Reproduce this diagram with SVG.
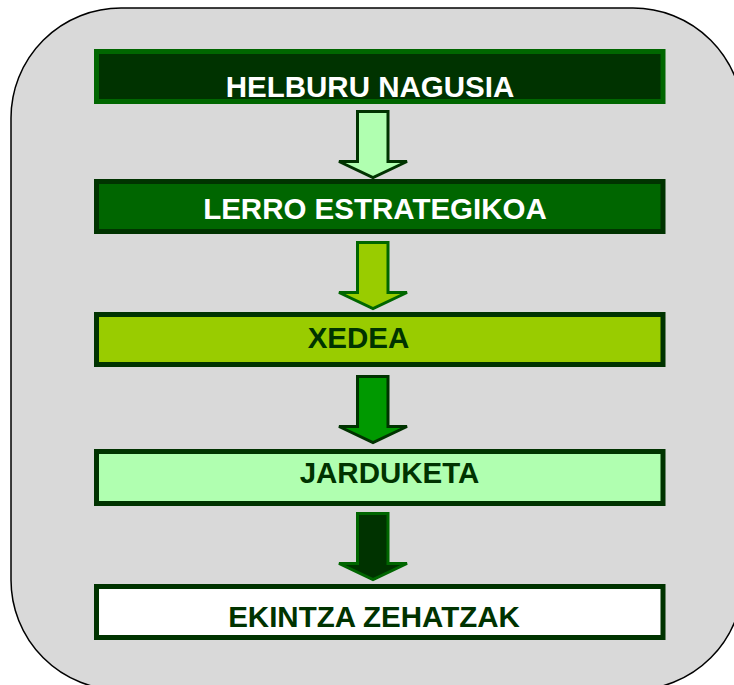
<svg xmlns="http://www.w3.org/2000/svg" width="734" height="685" viewBox="0 0 734 685">
<style>
.t{font-family:"Liberation Sans",Arial,sans-serif;font-weight:bold;font-size:29.5px}
.box{stroke-width:5}
.arr{stroke-width:3;stroke-linejoin:miter}
</style>
<defs>
<path id="arrow" d="M357.5 0 H388 V50 H407 L373 66 L339 50 H357.5 Z"/>
</defs>
<rect x="11" y="8" width="732" height="682" rx="110" ry="110" fill="#d9d9d9" stroke="#000" stroke-width="1.5"/>
<g id="connectors">
<use href="#arrow" class="arr" transform="translate(0,111.5)" fill="#b0ffb0" stroke="#003300"/>
<use href="#arrow" class="arr" transform="translate(0,242.5)" fill="#99cc00" stroke="#006600"/>
<use href="#arrow" class="arr" transform="translate(0,376.5)" fill="#009900" stroke="#003300"/>
<use href="#arrow" class="arr" transform="translate(0,513.5)" fill="#003300" stroke="#006600"/>
</g>
<g id="helburu">
<rect class="box" x="96.5" y="51.5" width="566.5" height="50" fill="#003300" stroke="#006600"/>
<text class="t" x="370" y="97" text-anchor="middle" fill="#fff">HELBURU NAGUSIA</text>
</g>
<g id="lerro">
<rect class="box" x="96.5" y="181.5" width="566.5" height="50" fill="#006600" stroke="#003300"/>
<text class="t" x="375" y="219" text-anchor="middle" fill="#fff">LERRO ESTRATEGIKOA</text>
</g>
<g id="xedea">
<rect class="box" x="96.5" y="314.5" width="566.5" height="50" fill="#99cc00" stroke="#003300"/>
<text class="t" x="358.5" y="348" text-anchor="middle" fill="#003300">XEDEA</text>
</g>
<g id="jarduketa">
<rect class="box" x="96.5" y="451.5" width="566.5" height="52" fill="#b0ffb0" stroke="#003300"/>
<text class="t" x="389.5" y="483" text-anchor="middle" fill="#003300">JARDUKETA</text>
</g>
<g id="ekintza">
<rect class="box" x="96.5" y="586.5" width="566.5" height="51" fill="#ffffff" stroke="#003300"/>
<text class="t" x="374" y="627" text-anchor="middle" fill="#003300">EKINTZA ZEHATZAK</text>
</g>
</svg>
